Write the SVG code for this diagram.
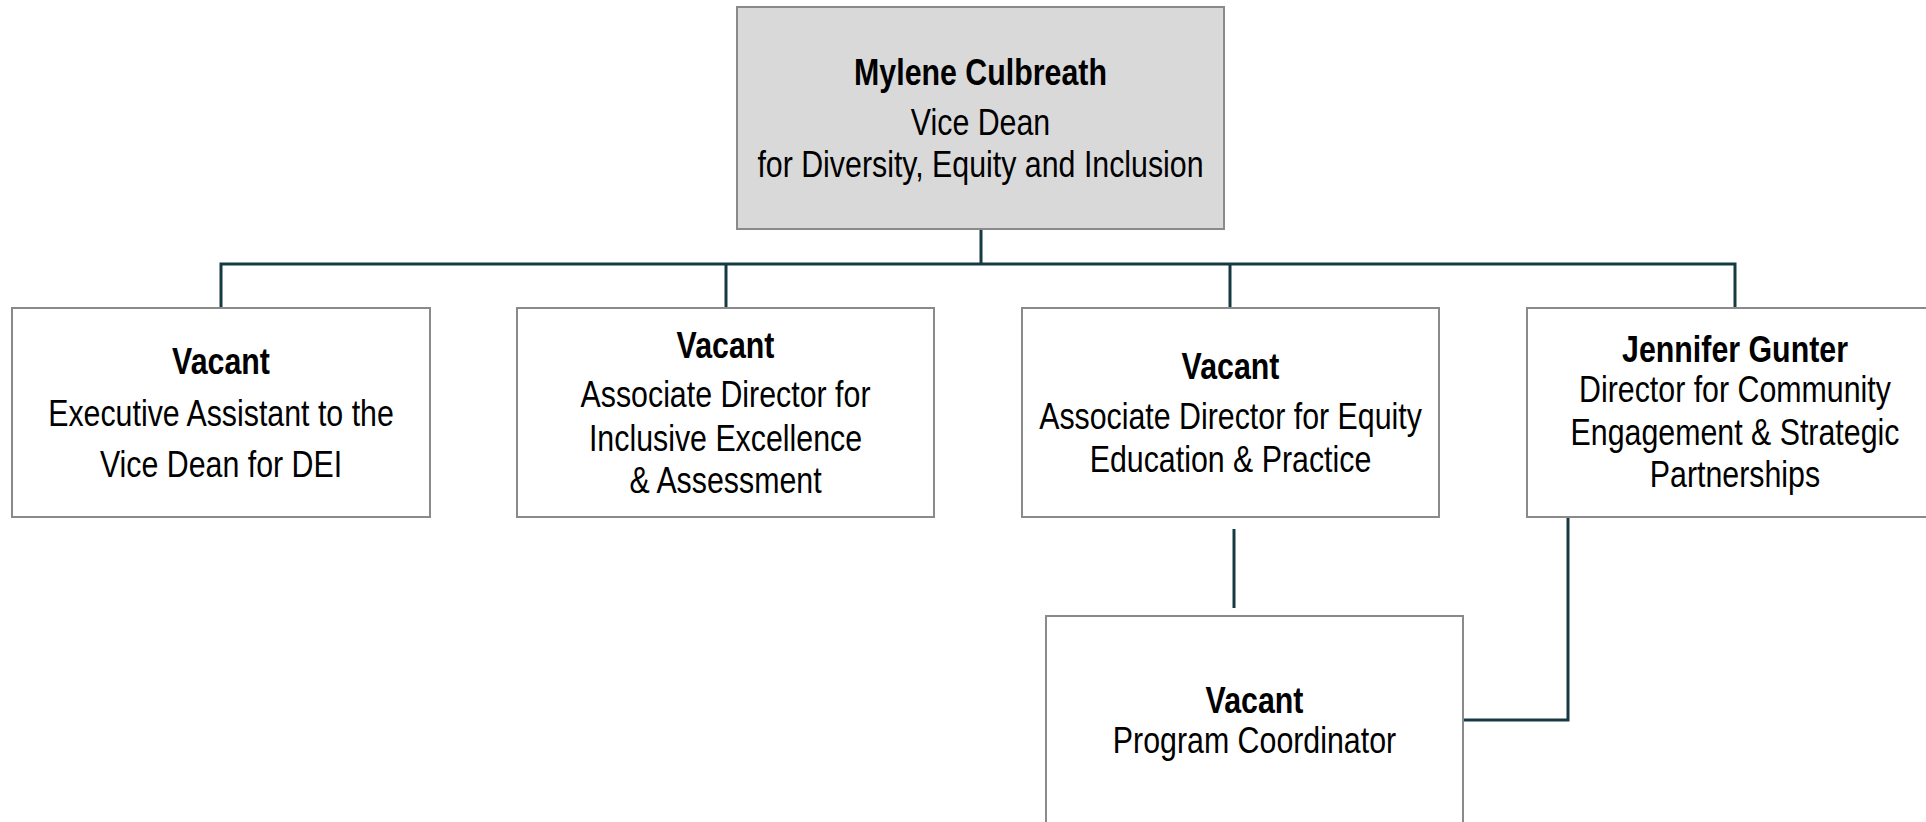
<svg xmlns="http://www.w3.org/2000/svg" width="1926" height="822" viewBox="0 0 1926 822">
<style>
.box{fill:#ffffff;stroke:#8a8a8a;stroke-width:2}
.top{fill:#d9d9d9;stroke:#8a8a8a;stroke-width:2}
.conn{fill:none;stroke:#163a42;stroke-width:3}
text{font-family:"Liberation Sans",Arial,sans-serif;fill:#000;text-anchor:middle;font-size:37px}
.b{font-weight:bold}
</style>
<rect width="1926" height="822" fill="#ffffff"/>
<g id="connectors">
<path class="conn" d="M981 229 V264 M221 308 V264 H1735 V308 M726 264 V308 M1230 264 V308"/>
<path class="conn" d="M1234 529 V608"/>
<path class="conn" d="M1568 517 V720 H1463"/>
</g>
<g id="node-vice-dean">
<rect class="top" x="737" y="7" width="487" height="222"/>
<g transform="translate(980.5,0) scale(0.82,1)">
<text class="b" x="0" y="85">Mylene Culbreath</text>
<text x="0" y="135">Vice Dean</text>
<text x="0" y="177">for Diversity, Equity and Inclusion</text>
</g>
</g>
<g id="node-exec-assistant">
<rect class="box" x="12" y="308" width="418" height="209"/>
<g transform="translate(221,0) scale(0.82,1)">
<text class="b" x="0" y="374">Vacant</text>
<text x="0" y="426">Executive Assistant to the</text>
<text x="0" y="477">Vice Dean for DEI</text>
</g>
</g>
<g id="node-assoc-inclusive">
<rect class="box" x="517" y="308" width="417" height="209"/>
<g transform="translate(725.5,0) scale(0.82,1)">
<text class="b" x="0" y="358">Vacant</text>
<text x="0" y="407">Associate Director for</text>
<text x="0" y="451">Inclusive Excellence</text>
<text x="0" y="493">&amp; Assessment</text>
</g>
</g>
<g id="node-assoc-equity">
<rect class="box" x="1022" y="308" width="417" height="209"/>
<g transform="translate(1230.5,0) scale(0.82,1)">
<text class="b" x="0" y="379">Vacant</text>
<text x="0" y="429">Associate Director for Equity</text>
<text x="0" y="472">Education &amp; Practice</text>
</g>
</g>
<g id="node-community">
<rect class="box" x="1527" y="308" width="416" height="209"/>
<g transform="translate(1735,0) scale(0.82,1)">
<text class="b" x="0" y="362">Jennifer Gunter</text>
<text x="0" y="402">Director for Community</text>
<text x="0" y="445">Engagement &amp; Strategic</text>
<text x="0" y="487">Partnerships</text>
</g>
</g>
<g id="node-program-coordinator">
<rect class="box" x="1046" y="616" width="417" height="212"/>
<g transform="translate(1254.5,0) scale(0.82,1)">
<text class="b" x="0" y="713">Vacant</text>
<text x="0" y="753">Program Coordinator</text>
</g>
</g>
</svg>
